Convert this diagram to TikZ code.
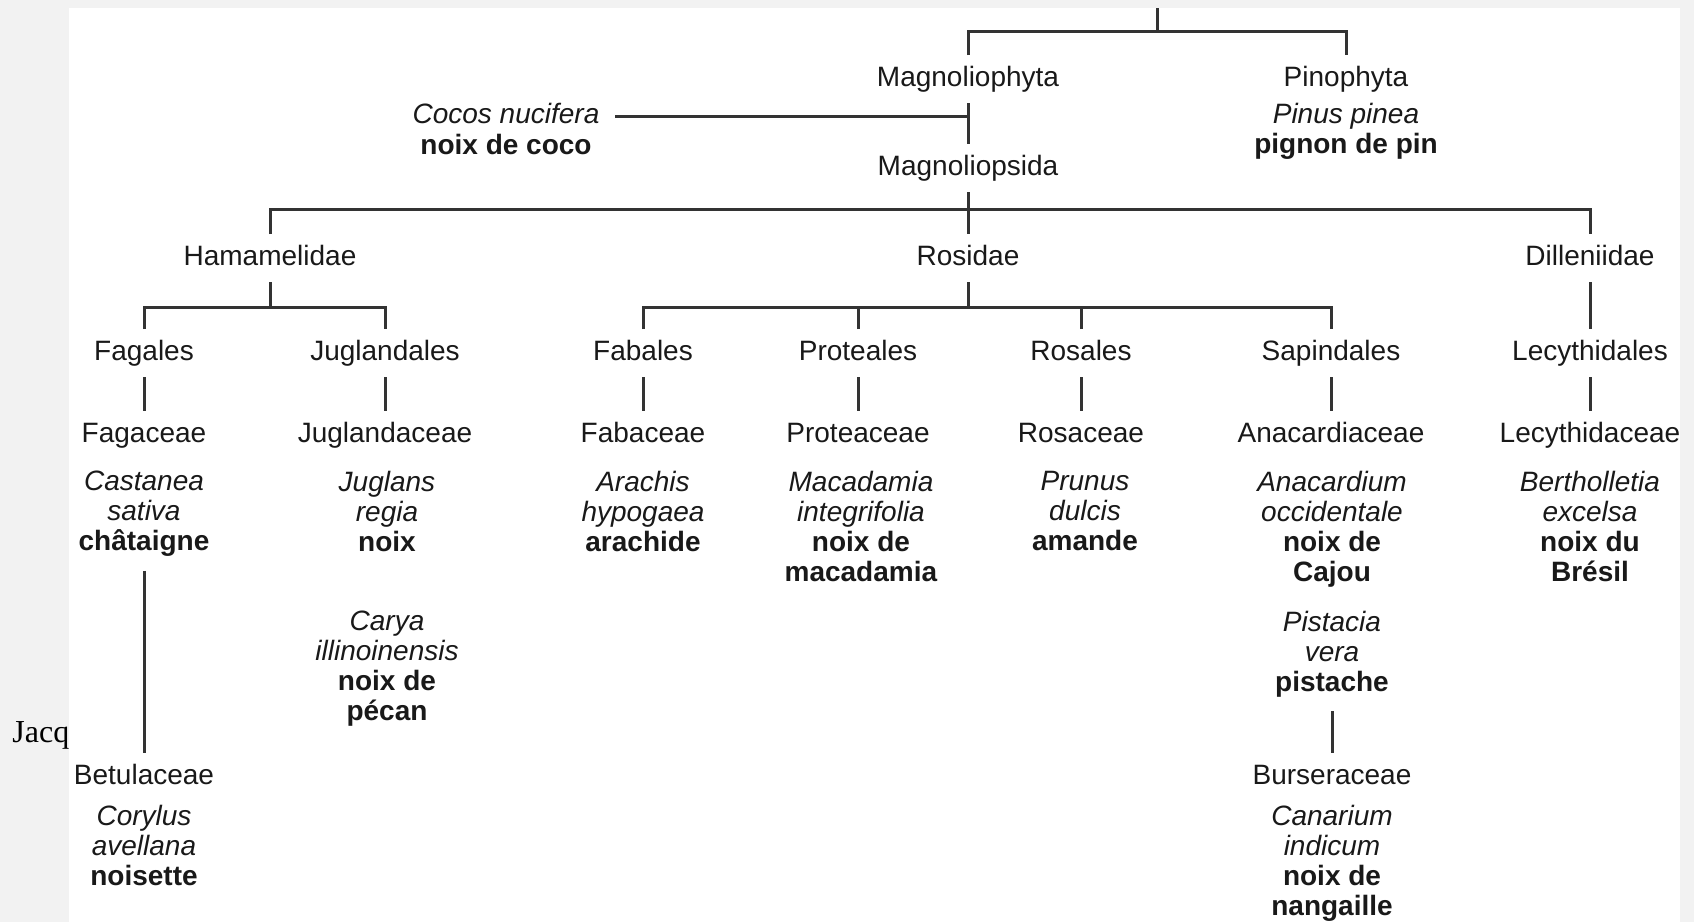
\documentclass[tikz,border=0pt]{standalone}
\usepackage{fontspec}
\setmainfont{Liberation Sans}
\newfontfamily\notefont{Liberation Serif}
\newcommand\treefont{\fontsize{14}{15}\selectfont}
\begin{document}
\begin{tikzpicture}[x=0.5pt, y=-0.5pt,
	taxon/.style={anchor=base, inner sep=0pt, outer xsep=8pt, outer ysep=5.5pt,
		text height=10pt, text depth=3pt, font=\treefont, text=black!90},
	species/.style={anchor=north, align=center, inner sep=0pt, font=\treefont, text=black!90},
	branch/.style={draw=black!80, line width=1.5pt}]
	\useasboundingbox (0,0) rectangle (1694,922);
	\fill[black!5] (0,0) rectangle (1694,922);
	\node[anchor=base west, inner sep=0pt, font=\notefont\fontsize{16}{18}\selectfont] (credit) at (12,742) {Jacqu};
	\fill[white] (69,8) rectangle (1680,922);

	% divisions
	\node[taxon] (magnoliophyta) at (968,86) {Magnoliophyta};
	\node[taxon] (pinophyta) at (1346,86) {Pinophyta};
	\node[species] (pinus) at (1346,102.5) {\textit{Pinus pinea}\\\textbf{pignon de pin}};
	\node[taxon, font=\treefont\itshape] (cocos) at (506,123) {Cocos nucifera};
	\node[taxon, font=\treefont\bfseries] (coco) at (506,154) {noix de coco};
	\node[taxon] (magnoliopsida) at (968,175) {Magnoliopsida};

	% subclasses
	\node[taxon] (hamamelidae) at (270,265) {Hamamelidae};
	\node[taxon] (rosidae) at (968,265) {Rosidae};
	\node[taxon] (dilleniidae) at (1590,265) {Dilleniidae};

	% orders
	\node[taxon] (fagales) at (144,360) {Fagales};
	\node[taxon] (juglandales) at (385,360) {Juglandales};
	\node[taxon] (fabales) at (643,360) {Fabales};
	\node[taxon] (proteales) at (858,360) {Proteales};
	\node[taxon] (rosales) at (1081,360) {Rosales};
	\node[taxon] (sapindales) at (1331,360) {Sapindales};
	\node[taxon] (lecythidales) at (1590,360) {Lecythidales};

	% families
	\node[taxon] (fagaceae) at (144,442) {Fagaceae};
	\node[taxon] (juglandaceae) at (385,442) {Juglandaceae};
	\node[taxon] (fabaceae) at (643,442) {Fabaceae};
	\node[taxon] (proteaceae) at (858,442) {Proteaceae};
	\node[taxon] (rosaceae) at (1081,442) {Rosaceae};
	\node[taxon] (anacardiaceae) at (1331,442) {Anacardiaceae};
	\node[taxon] (lecythidaceae) at (1590,442) {Lecythidaceae};
	\node[taxon] (betulaceae) at (144,784) {Betulaceae};
	\node[taxon] (burseraceae) at (1332,784) {Burseraceae};

	% species
	\node[species] (castanea) at (144,470.5) {\textit{Castanea}\\\textit{sativa}\\\textbf{châtaigne}};
	\node[species] (juglans) at (387,470.5) {\textit{Juglans}\\\textit{regia}\\\textbf{noix}};
	\node[species] (carya) at (387,610.5) {\textit{Carya}\\\textit{illinoinensis}\\\textbf{noix de}\\\textbf{pécan}};
	\node[species] (arachis) at (643,470.5) {\textit{Arachis}\\\textit{hypogaea}\\\textbf{arachide}};
	\node[species] (macadamia) at (861,470.5) {\textit{Macadamia}\\\textit{integrifolia}\\\textbf{noix de}\\\textbf{macadamia}};
	\node[species] (prunus) at (1085,470.5) {\textit{Prunus}\\\textit{dulcis}\\\textbf{amande}};
	\node[species] (anacardium) at (1332,470.5) {\textit{Anacardium}\\\textit{occidentale}\\\textbf{noix de}\\\textbf{Cajou}};
	\node[species] (pistacia) at (1332,610.5) {\textit{Pistacia}\\\textit{vera}\\\textbf{pistache}};
	\node[species] (bertholletia) at (1590,470.5) {\textit{Bertholletia}\\\textit{excelsa}\\\textbf{noix du}\\\textbf{Brésil}};
	\node[species] (corylus) at (144,804.5) {\textit{Corylus}\\\textit{avellana}\\\textbf{noisette}};
	\node[species] (canarium) at (1332,804.5) {\textit{Canarium}\\\textit{indicum}\\\textbf{noix de}\\\textbf{nangaille}};

	% branches
	\coordinate (top) at (1157,8);
	\coordinate (fork0) at (1157,31);
	\coordinate (fork1) at (968,209);
	\coordinate (fork2) at (270,307);
	\coordinate (fork3) at (968,307);
	\draw[branch] (top) -- (fork0);
	\draw[branch] (magnoliophyta.north) |- (fork0) -| (pinophyta.north);
	\draw[branch] (magnoliophyta) -- (magnoliopsida);
	\draw[branch] (cocos) -- (cocos -| magnoliophyta);
	\draw[branch] (magnoliopsida) -- (fork1) -- (rosidae);
	\draw[branch] (hamamelidae.north) |- (fork1) -| (dilleniidae.north);
	\draw[branch] (hamamelidae) -- (fork2);
	\draw[branch] (fagales.north) |- (fork2) -| (juglandales.north);
	\draw[branch] (rosidae) -- (fork3);
	\draw[branch] (fabales.north) |- (fork3) -| (sapindales.north);
	\draw[branch] (proteales.north) -- (proteales.north |- fork3);
	\draw[branch] (rosales.north) -- (rosales.north |- fork3);
	\draw[branch] (dilleniidae) -- (lecythidales);
	\foreach \ord/\fam in {fagales/fagaceae, juglandales/juglandaceae, fabales/fabaceae,
		proteales/proteaceae, rosales/rosaceae, sapindales/anacardiaceae, lecythidales/lecythidaceae}
		\draw[branch] (\ord) -- (\fam);
	\draw[branch, shorten <=7pt] (castanea.south) -- (betulaceae.north);
	\draw[branch, shorten <=7pt] (pistacia.south) -- (burseraceae.north);
\end{tikzpicture}
\end{document}
